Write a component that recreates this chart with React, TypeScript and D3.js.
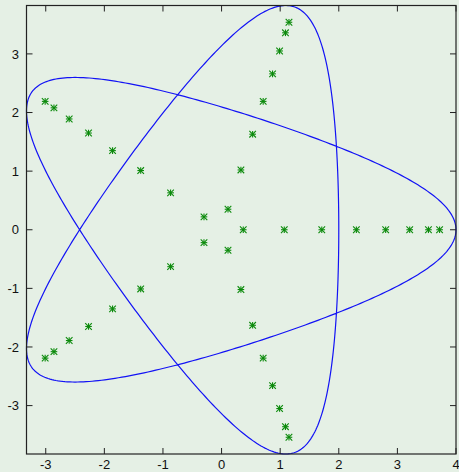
import React from "react";
import * as d3 from "d3";

// Star points, five rays of eight samples each
const starX = [
  0.37, 1.07, 1.71, 2.3, 2.8, 3.21, 3.53, 3.72,
  0.11, 0.33, 0.53, 0.71, 0.87, 0.99, 1.09, 1.15,
  -0.3, -0.87, -1.38, -1.86, -2.27, -2.6, -2.86, -3.01,
  -0.3, -0.87, -1.38, -1.86, -2.27, -2.6, -2.86, -3.01,
  0.11, 0.33, 0.53, 0.71, 0.87, 0.99, 1.09, 1.15,
];
const starY = [
  0, 0, 0, 0, 0, 0, 0, 0,
  0.35, 1.02, 1.63, 2.19, 2.66, 3.05, 3.36, 3.54,
  0.22, 0.63, 1.01, 1.35, 1.65, 1.89, 2.08, 2.19,
  -0.22, -0.63, -1.01, -1.35, -1.65, -1.89, -2.08, -2.19,
  -0.35, -1.02, -1.63, -2.19, -2.66, -3.05, -3.36, -3.54,
];

// Parametric curve z(t) = sum amp * exp(i * freq * t)
const curveAmps = [3, 1];
const curveFreqs = [2, -3];
const curveSamples = 720;

const xTicks = [-3, -2, -1, 0, 1, 2, 3, 4];
const yTicks = [-3, -2, -1, 0, 1, 2, 3];

const W = 459;
const H = 472;
const left = 26.5;
const right = 456;
const top = 5.5;
const bottom = 454;
const tickLen = 6;

export default function App() {
  const curve: [number, number][] = d3.range(curveSamples + 1).map((i) => {
    const t = (i / curveSamples) * 2 * Math.PI;
    let x = 0;
    let y = 0;
    curveAmps.forEach((a, k) => {
      x += a * Math.cos(curveFreqs[k] * t);
      y += a * Math.sin(curveFreqs[k] * t);
    });
    return [x, y];
  });

  const xExt = d3.extent(curve, (d) => d[0]) as [number, number];
  const yExt = d3.extent(curve, (d) => d[1]) as [number, number];
  const x = d3.scaleLinear().domain(xExt).range([left, right]);
  const y = d3.scaleLinear().domain(yExt).range([bottom, top]);

  const line = d3
    .line<[number, number]>()
    .x((d) => x(d[0]))
    .y((d) => y(d[1]));

  const frameColor = "#222";
  const font = "'Liberation Sans', Arial, sans-serif";
  const r = 3.3;

  return (
    <svg
      width={W}
      height={H}
      style={{ position: "absolute", left: 0, top: 0, display: "block" }}
    >
      <rect x={0} y={0} width={W} height={H} fill="#e5f0e5" />
      <path d={line(curve) || ""} fill="none" stroke="#1212f5" strokeWidth={1.2} />
      <g stroke="#0b8a0b" strokeWidth={1.1}>
        {starX.map((vx, i) => {
          const cx = x(vx);
          const cy = y(starY[i]);
          return (
            <g key={i}>
              <line x1={cx - r} x2={cx + r} y1={cy} y2={cy} />
              <line x1={cx} x2={cx} y1={cy - r} y2={cy + r} />
              <line x1={cx - r} x2={cx + r} y1={cy - r} y2={cy + r} />
              <line x1={cx - r} x2={cx + r} y1={cy + r} y2={cy - r} />
            </g>
          );
        })}
      </g>
      <g stroke={frameColor} strokeWidth={1}>
        {xTicks.map((t) => (
          <g key={"x" + t}>
            <line x1={x(t)} x2={x(t)} y1={bottom} y2={bottom - tickLen} />
            <line x1={x(t)} x2={x(t)} y1={top} y2={top + tickLen} />
          </g>
        ))}
        {yTicks.map((t) => (
          <g key={"y" + t}>
            <line x1={left} x2={left + tickLen} y1={y(t)} y2={y(t)} />
            <line x1={right} x2={right - tickLen} y1={y(t)} y2={y(t)} />
          </g>
        ))}
      </g>
      <rect
        x={left}
        y={top}
        width={right - left}
        height={bottom - top}
        fill="none"
        stroke={frameColor}
        strokeWidth={1.2}
      />
      <g fontFamily={font} fontSize={13} fill="#111">
        {xTicks.map((t) => (
          <text key={"xl" + t} x={x(t)} y={468.5} textAnchor="middle">
            {t}
          </text>
        ))}
        {yTicks.map((t) => (
          <text key={"yl" + t} x={19} y={y(t)} dy="0.36em" textAnchor="end">
            {t}
          </text>
        ))}
      </g>
    </svg>
  );
}
